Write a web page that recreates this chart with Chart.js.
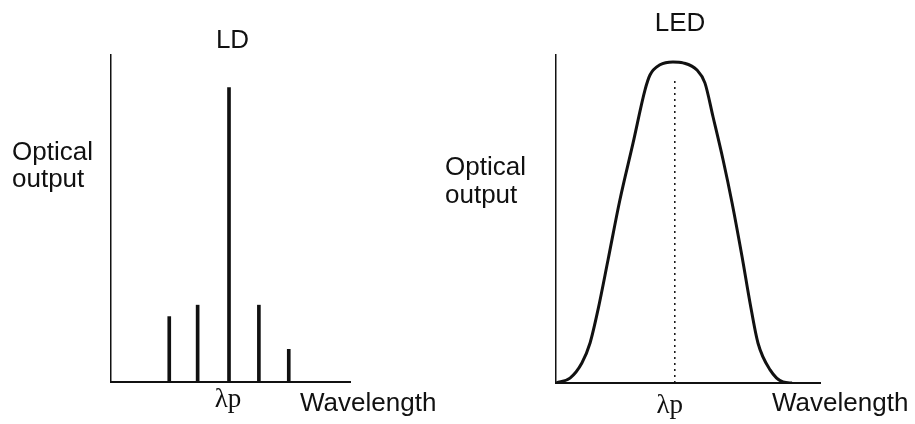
<!DOCTYPE html>
<html>
<head>
<meta charset="utf-8">
<script src="https://cdn.jsdelivr.net/npm/chart.js@4"></script>
<style>
    body { margin: 0; background: #fff; }
    #wrap { position: relative; width: 915px; height: 424px; overflow: hidden; }
    canvas { position: absolute; top: 0; }
    .lbl {
        position: absolute;
        font-family: "Liberation Sans", Arial, sans-serif;
        font-size: 26px;
        line-height: 27px;
        color: #111;
        white-space: nowrap;
    }
</style>
</head>
<body>
<div id="wrap">
    <canvas id="ldChart" width="457" height="424" style="left:0"></canvas>
    <canvas id="ledChart" width="458" height="424" style="left:457px"></canvas>

    <div class="lbl" style="left:200px; top:26px; width:65px; text-align:center">LD</div>
    <div class="lbl" style="left:12px; top:138px">Optical<br>output</div>
    <div class="lbl" style="left:300px; top:389px">Wavelength</div>

    <div class="lbl" style="left:640px; top:9px; width:80px; text-align:center">LED</div>
    <div class="lbl" style="left:445px; top:152px; line-height:28px">Optical<br>output</div>
    <div class="lbl" style="left:772px; top:389px">Wavelength</div>
</div>

<script>
// LD spectrum: discrete longitudinal modes (wavelength in arbitrary units, output in %)
const ldWavelength = [1.95, 2.9, 3.95, 4.95, 5.95];
const ldOutput = [20, 23.5, 90, 23.5, 10];
const ldPeak = 3.95;

// LED spectrum: one broad smooth band
const ledWavelength = [0, 0.53, 0.98, 1.29, 1.59, 1.97, 2.42, 2.92, 3.37, 3.56, 3.94, 4.43,
                       4.81, 5.34, 5.64, 5.95, 6.33, 6.67, 7.05, 7.35, 7.65, 8.11, 8.6, 8.94];
const ledOutput = [0, 1.5, 6.1, 12.2, 22.3, 37.5, 55.8, 73.2, 89.3, 93.9, 97.0, 97.9,
                   97.6, 95.4, 91.5, 81.1, 68.0, 54.9, 38.4, 24.4, 12.2, 4.0, 0.3, 0];
const ledPeak = 4.5;
const ledPeakMarker = [0, 92.7]; // dotted line from axis up to just under the top

const peakLabel = 'λp';
const ink = '#111';

// shared axis settings: bare black axes, no grid
function axes(xMax, peak, tickPad, labelShift) {
    return {
        x: {
            type: 'linear',
            min: 0,
            max: xMax,
            offset: false,
            grid: { display: false, drawTicks: false },
            border: { display: true, color: ink, width: 2 },
            // fixed band under the plot so the labels are not clipped
            afterFit: function (scale) { scale.height = 40; },
            afterBuildTicks: function (scale) { scale.ticks = [{ value: peak }]; },
            ticks: {
                autoSkip: false,
                maxRotation: 0,
                padding: tickPad,
                labelOffset: labelShift,
                color: ink,
                font: { family: '"Liberation Serif", "Times New Roman", serif', size: 27 },
                callback: function () { return peakLabel; }
            }
        },
        y: {
            min: 0,
            max: 100,
            grid: { display: false, drawTicks: false },
            border: { display: true, color: ink, width: 1.5 },
            ticks: { display: false },
            afterFit: function (scale) { scale.width = 0; }
        }
    };
}

function createLdChart() {
    const ctx = document.getElementById('ldChart').getContext('2d');
    return new Chart(ctx, {
        type: 'bar',
        data: {
            datasets: [{
                data: ldWavelength.map((w, i) => ({ x: w, y: ldOutput[i] })),
                backgroundColor: ink,
                borderWidth: 0,
                barThickness: 3,
                grouped: false
            }]
        },
        options: {
            responsive: false,
            animation: false,
            layout: { padding: { left: 111, right: 107, top: 55, bottom: 2 } },
            plugins: { legend: { display: false }, tooltip: { enabled: false } },
            scales: axes(8, ldPeak, 2, -1)
        }
    });
}

function createLedChart() {
    const ctx = document.getElementById('ledChart').getContext('2d');
    return new Chart(ctx, {
        type: 'line',
        data: {
            datasets: [
                {
                    data: ledWavelength.map((w, i) => ({ x: w, y: ledOutput[i] })),
                    borderColor: ink,
                    borderWidth: 3,
                    pointRadius: 0,
                    cubicInterpolationMode: 'monotone',
                    fill: false
                },
                {
                    // dotted marker at the peak wavelength
                    data: ledPeakMarker.map(v => ({ x: ledPeak, y: v })),
                    borderColor: ink,
                    borderWidth: 1.5,
                    borderDash: [2, 4],
                    pointRadius: 0,
                    tension: 0,
                    fill: false
                }
            ]
        },
        options: {
            responsive: false,
            animation: false,
            layout: { padding: { left: 99, right: 95, top: 55, bottom: 1 } },
            plugins: { legend: { display: false }, tooltip: { enabled: false } },
            scales: axes(10, ledPeak, 7, -5)
        }
    });
}

window.onload = function () {
    createLdChart();
    createLedChart();
};
</script>
</body>
</html>
